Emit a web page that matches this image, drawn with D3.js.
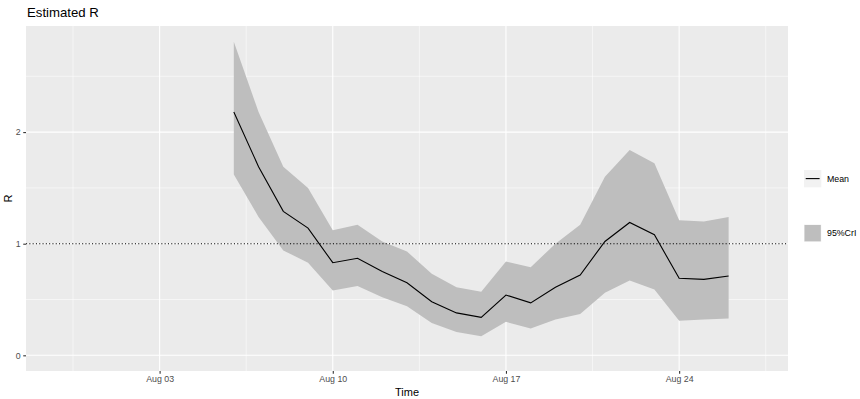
<!DOCTYPE html>
<html><head><meta charset="utf-8">
<script src="https://cdn.jsdelivr.net/npm/d3@7"></script>
<style>body{margin:0;background:#fff;} text{font-family:"Liberation Sans",Arial,sans-serif;}</style>
</head><body><svg id="c" width="860" height="399"></svg>
<script>
const dates = ["2020-08-06","2020-08-07","2020-08-08","2020-08-09","2020-08-10","2020-08-11","2020-08-12","2020-08-13","2020-08-14","2020-08-15","2020-08-16","2020-08-17","2020-08-18","2020-08-19","2020-08-20","2020-08-21","2020-08-22","2020-08-23","2020-08-24","2020-08-25","2020-08-26"];
const meanR = [2.18,1.69,1.29,1.14,0.83,0.87,0.75,0.65,0.48,0.38,0.34,0.54,0.47,0.61,0.72,1.02,1.19,1.08,0.69,0.68,0.71];
const upperR = [2.81,2.18,1.69,1.50,1.12,1.17,1.02,0.93,0.73,0.61,0.57,0.84,0.79,1.00,1.17,1.60,1.84,1.72,1.21,1.20,1.24];
const lowerR = [1.62,1.24,0.94,0.83,0.58,0.62,0.52,0.44,0.29,0.21,0.17,0.30,0.24,0.32,0.37,0.56,0.67,0.59,0.31,0.32,0.33];
const xTickDates = ["2020-08-03","2020-08-10","2020-08-17","2020-08-24"];
const xMinorDates = ["2020-07-30T12:00","2020-08-06T12:00","2020-08-13T12:00","2020-08-20T12:00","2020-08-27T12:00"];
const yTicks = [0,1,2];
const yMinor = [0.5,1.5,2.5];
const xDomainDates = ["2020-07-30","2020-08-27"];
const legendLabels = ["Mean","95%CrI"];

const parse = s => new Date(s.length>10 ? s : s+"T00:00");
const svg = d3.select("#c");
const L=26,R=788,T=26,B=371;
const d0=parse(xDomainDates[0]), d1=parse(xDomainDates[1]);
const span=d1-d0;
const x=d3.scaleTime().domain([new Date(+d0-0.05*span), new Date(+d1+0.05*span)]).range([L,R]);
const yMaxData=d3.max(upperR), yMinData=0;
const yr=yMaxData-yMinData;
const y=d3.scaleLinear().domain([yMinData-0.05*yr, yMaxData+0.05*yr]).range([B,T]);

svg.append("rect").attr("x",L).attr("y",T).attr("width",R-L).attr("height",B-T).attr("fill","#EBEBEB");
const g=svg.append("g");
// minor grid
xMinorDates.forEach(d=>g.append("line").attr("x1",x(parse(d))).attr("x2",x(parse(d))).attr("y1",T).attr("y2",B).attr("stroke","#fff").attr("stroke-width",0.55));
yMinor.forEach(v=>g.append("line").attr("x1",L).attr("x2",R).attr("y1",y(v)).attr("y2",y(v)).attr("stroke","#fff").attr("stroke-width",0.55));
xTickDates.forEach(d=>g.append("line").attr("x1",x(parse(d))).attr("x2",x(parse(d))).attr("y1",T).attr("y2",B).attr("stroke","#fff").attr("stroke-width",1.1));
yTicks.forEach(v=>g.append("line").attr("x1",L).attr("x2",R).attr("y1",y(v)).attr("y2",y(v)).attr("stroke","#fff").attr("stroke-width",1.1));

const data=dates.map((d,i)=>({d:parse(d),m:meanR[i],u:upperR[i],l:lowerR[i]}));
svg.append("path").datum(data).attr("d",d3.area().x(d=>x(d.d)).y0(d=>y(d.l)).y1(d=>y(d.u))).attr("fill","#BEBEBE");
svg.append("path").datum(data).attr("d",d3.line().x(d=>x(d.d)).y(d=>y(d.m))).attr("fill","none").attr("stroke","#000").attr("stroke-width",1.1);
svg.append("line").attr("x1",L).attr("x2",R).attr("y1",y(1)).attr("y2",y(1)).attr("stroke","#000").attr("stroke-width",1.1).attr("stroke-dasharray","1.1 2.2");

// axes
const xa=svg.append("g").attr("transform",`translate(0,${B})`).call(d3.axisBottom(x).tickValues(xTickDates.map(parse)).tickFormat(d3.timeFormat("%b %d")).tickSize(2.75).tickPadding(2.5));
const ya=svg.append("g").attr("transform",`translate(${L},0)`).call(d3.axisLeft(y).tickValues(yTicks).tickFormat(d3.format("d")).tickSize(2.75).tickPadding(2.5));
[xa,ya].forEach(a=>{a.select(".domain").remove();a.selectAll(".tick line").attr("stroke","#333").attr("stroke-width",1.1);a.selectAll(".tick text").attr("fill","#4D4D4D").style("font-size","8.8px").style("font-family","Liberation Sans, Arial, sans-serif");});

svg.append("text").attr("x",L+1).attr("y",17).text("Estimated R").style("font-size","13.2px").attr("fill","#000");
svg.append("text").attr("x",(L+R)/2).attr("y",396).attr("text-anchor","middle").text("Time").style("font-size","11px");
svg.append("text").attr("transform",`translate(12,${(T+B)/2}) rotate(-90)`).attr("text-anchor","middle").text("R").style("font-size","11px");

// legend
const lg=svg.append("g");
lg.append("rect").attr("x",804).attr("y",170).attr("width",17.3).attr("height",17.3).attr("fill","#F2F2F2");
lg.append("line").attr("x1",805.7).attr("x2",819.6).attr("y1",178.6).attr("y2",178.6).attr("stroke","#000").attr("stroke-width",1.1);
lg.append("rect").attr("x",804).attr("y",224.5).attr("width",17.3).attr("height",17.3).attr("fill","#F2F2F2");
lg.append("rect").attr("x",804.5).attr("y",225).attr("width",16.3).attr("height",16.3).attr("fill","#BEBEBE");
lg.append("text").attr("x",827).attr("y",181.8).text(legendLabels[0]).style("font-size","8.8px");
lg.append("text").attr("x",827).attr("y",236.3).text(legendLabels[1]).style("font-size","8.8px");
</script></body></html>
